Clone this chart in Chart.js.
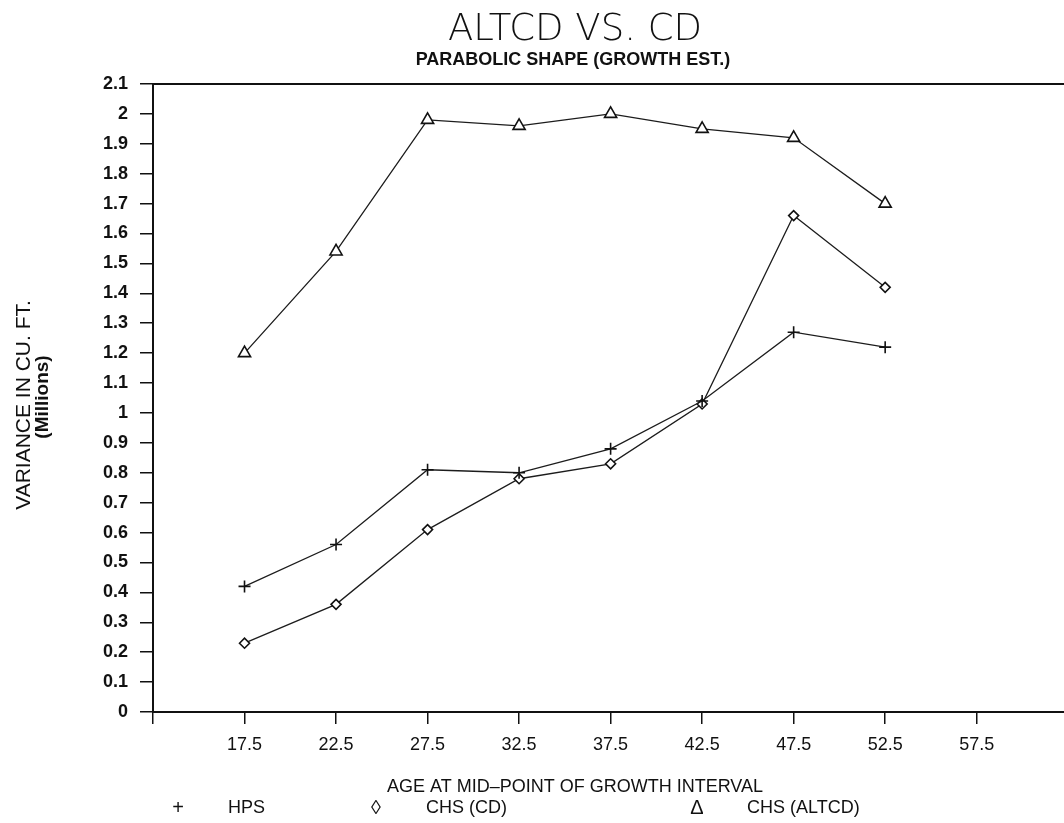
<!DOCTYPE html>
<html>
<head>
<meta charset="utf-8">
<title>ALTCD VS. CD</title>
<script src="https://cdn.jsdelivr.net/npm/chart.js@4.4.1/dist/chart.umd.min.js"></script>
<style>
  html, body { margin: 0; padding: 0; background: #fff; overflow: hidden; }
  #chart { display: block; }
</style>
</head>
<body>
<canvas id="chart" width="1064" height="823"></canvas>
<script>
// mid-point of growth interval (years)
const ages = [17.5, 22.5, 27.5, 32.5, 37.5, 42.5, 47.5, 52.5];

// variance in cu. ft. (millions)
const hps = [0.42, 0.56, 0.81, 0.80, 0.88, 1.04, 1.27, 1.22];
const chsCd = [0.23, 0.36, 0.61, 0.78, 0.83, 1.03, 1.66, 1.42];
const chsAltcd = [1.20, 1.54, 1.98, 1.96, 2.00, 1.95, 1.92, 1.70];

const seriesNames = ['HPS', 'CHS (CD)', 'CHS (ALTCD)'];
const legendGlyphs = ['+', '\u25CA', '\u0394'];
const xTickValues = [12.5, 17.5, 22.5, 27.5, 32.5, 37.5, 42.5, 47.5, 52.5, 57.5];
const xTickLabels = ['', '17.5', '22.5', '27.5', '32.5', '37.5', '42.5', '47.5', '52.5', '57.5'];

const INK = '#111';
const SANS = "'Liberation Sans', Arial, sans-serif";

const toPoints = (ys) => ys.map((y, i) => ({ x: ages[i], y: y }));

const lineStyle = {
  borderColor: '#1c1c1c',
  borderWidth: 1.3,
  pointBorderColor: INK,
  pointBackgroundColor: '#fff',
  pointBorderWidth: 1.6,
  tension: 0,
  fill: false
};

// titles, legend row and the top frame line
const captions = {
  id: 'captions',
  afterDraw(chart) {
    const ctx = chart.ctx;
    const area = chart.chartArea;
    const cx = 575;
    ctx.save();
    ctx.fillStyle = INK;
    ctx.strokeStyle = INK;

    ctx.lineWidth = 2;
    ctx.beginPath();
    ctx.moveTo(area.left, area.top);
    ctx.lineTo(area.right, area.top);
    ctx.stroke();

    ctx.textAlign = 'center';
    ctx.textBaseline = 'middle';
    ctx.font = "200 37px 'DejaVu Sans', sans-serif";
    ctx.fillText('ALTCD VS. CD', cx, 30);
    ctx.font = 'bold 18px ' + SANS;
    ctx.fillText('PARABOLIC SHAPE (GROWTH EST.)', 573, 60);

    ctx.font = '18px ' + SANS;
    ctx.fillText('AGE AT MID\u2013POINT OF GROWTH INTERVAL', cx, 787);

    // y axis title, two lines
    ctx.save();
    ctx.translate(24, 405);
    ctx.rotate(-Math.PI / 2);
    ctx.font = '21px ' + SANS;
    ctx.fillText('VARIANCE IN CU. FT.', 0, 0);
    ctx.restore();
    ctx.save();
    ctx.translate(43, 397);
    ctx.rotate(-Math.PI / 2);
    ctx.font = 'bold 19px ' + SANS;
    ctx.fillText('(Millions)', 0, 0);
    ctx.restore();

    // legend
    const glyphX = [178, 376, 697];
    seriesNames.forEach((name, i) => {
      ctx.font = '20px ' + SANS;
      ctx.textAlign = 'center';
      ctx.fillText(legendGlyphs[i], glyphX[i], 808);
      ctx.font = '18px ' + SANS;
      ctx.textAlign = 'left';
      ctx.fillText(name, glyphX[i] + 50, 808);
    });
    ctx.restore();
  }
};

new Chart(document.getElementById('chart'), {
  type: 'line',
  data: {
    datasets: [
      Object.assign({ label: seriesNames[0], data: toPoints(hps), pointStyle: 'cross', pointRadius: 6 }, lineStyle),
      Object.assign({ label: seriesNames[1], data: toPoints(chsCd), pointStyle: 'rectRot', pointRadius: 5 }, lineStyle),
      Object.assign({ label: seriesNames[2], data: toPoints(chsAltcd), pointStyle: 'triangle', pointRadius: 7 }, lineStyle)
    ]
  },
  options: {
    responsive: false,
    animation: false,
    events: [],
    // no point-overflow padding: the plot runs right to the canvas edge
    layout: { autoPadding: false, padding: { top: 84, right: 0, left: 0, bottom: 0 } },
    plugins: {
      legend: { display: false },
      title: { display: false },
      tooltip: { enabled: false }
    },
    scales: {
      x: {
        type: 'linear',
        min: 12.5,
        max: 62.27,
        afterFit: (scale) => { scale.height = 111; },
        afterBuildTicks: (scale) => { scale.ticks = xTickValues.map((v) => ({ value: v })); },
        ticks: {
          autoSkip: false,
          maxRotation: 0,
          padding: 10,
          color: INK,
          font: { family: SANS, size: 18 },
          callback: (v, i) => xTickLabels[i]
        },
        grid: { drawOnChartArea: false, drawTicks: true, tickLength: 12, color: INK, lineWidth: 1.5 },
        border: { display: true, color: INK, width: 2 }
      },
      y: {
        min: 0,
        max: 2.1,
        afterFit: (scale) => { scale.width = 153; },
        ticks: {
          stepSize: 0.1,
          autoSkip: false,
          padding: 12,
          color: INK,
          font: { family: SANS, size: 18, weight: 'bold' },
          callback: (v) => String(Number(v.toFixed(1)))
        },
        grid: { drawOnChartArea: false, drawTicks: true, tickLength: 13, color: INK, lineWidth: 1.5 },
        border: { display: true, color: INK, width: 2 }
      }
    }
  },
  plugins: [captions]
});
</script>
</body>
</html>
